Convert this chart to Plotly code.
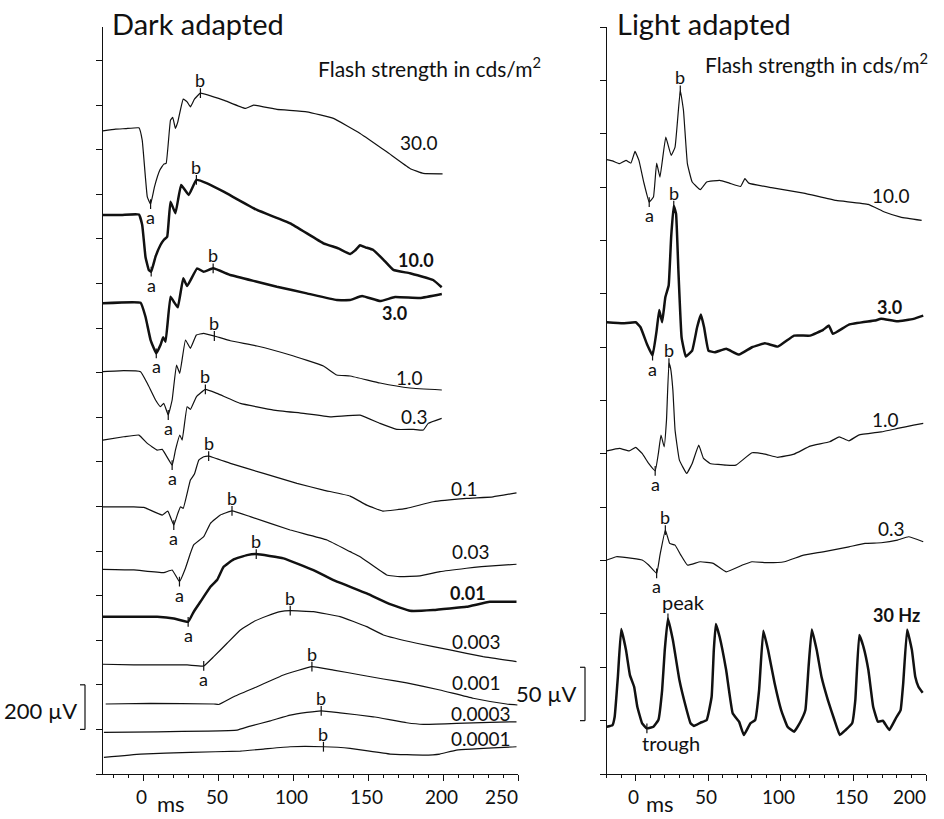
import numpy as np
import plotly.graph_objects as go

# ------------------------------------------------------------------
# DATA  (time in ms, amplitude in µV relative to each trace's baseline)
# ------------------------------------------------------------------
# Dark adapted, flash strengths (cd·s/m²)
da_labels = ["30.0", "10.0", "3.0", "1.0", "0.3", "0.1", "0.03", "0.01",
             "0.003", "0.001", "0.0003", "0.0001"]
da_offsets_uv = [2892, 2507, 2112, 1805, 1511, 1197, 915, 705, 489, 314, 188, 76]

da30_ms = [-27.4, -18.9, -12.2, -3.3, -1.1, 2.3, 4.5, 7.1, 10.7, 13.3, 14.9, 17.8, 19.3, 21.1,
           22.7, 26.3, 28.9, 31.1, 33.8, 37.8, 53.3, 67.8, 73.3, 88.9, 108.9, 126.7, 144.5,
           162.3, 177.8, 186.7, 199.6]
da30_uv = [-7.6, 0, 2.2, 5.8, -49.3, -303.6, -336.3, -258.8, -183.8, -157, -153.8, 40.4, 52.5,
           3.1, 32.7, 134.5, 122.4, 100, 134.5, 161.4, 130, 92.8, 107.6, 88.3, 77.6, 48, -19.3,
           -101.8, -176.3, -198.6, -200.4]

da10_ms = [-27.4, -15, -3.3, -1.1, 1.1, 3.3, 4.9, 7.8, 11.1, 13.3, 15.6, 17.8, 21.1, 24.9, 30,
           35.1, 42.3, 53.3, 75.6, 97.8, 120, 130, 137.8, 141, 144.5, 148, 153.3, 160, 166.7,
           177.8, 193.3, 199]
da10_uv = [0, 0, 2, -44.8, -188.3, -246.6, -254.2, -187, -134.5, -112.1, -97.3, 59.6, 7.6, 134.5,
           89.7, 157, 142.1, 104.5, 22.4, -37.2, -126.9, -150, -174.9, -160, -136, -145, -156.9,
           -200, -246.6, -261.4, -291.5, -324.2]

da3_ms = [-27.4, -2.2, 1.1, 4.5, 8.3, 11.1, 12.9, 14.5, 17.8, 20, 22.7, 26.3, 28.9, 35.6, 40,
          46.3, 57.8, 75.6, 88.9, 108.9, 128.9, 137.8, 145.8, 157.8, 167.8, 184.5, 199.1]
da3_uv = [-1.3, 1.3, -61.4, -165.9, -225.5, -188.3, -153.8, -173.5, 28.2, 5.8, -19.3, 110.8,
          76.2, 155.6, 140.4, 155.6, 125.6, 95.5, 73.1, 43.5, 13.5, 13.5, 31.4, 9, 26.9, 22.4, 40.4]

da1_ms = [-27.4, -13.5, -2.2, 2.3, 7.8, 11.1, 13.3, 16.3, 18.9, 21.8, 24, 27.8, 31.1, 35.1, 40,
          47.1, 57.8, 75.6, 97.8, 120, 128.9, 137.8, 157.8, 177.8, 199.1]
da1_uv = [-0.9, 3.6, -0.9, -52.9, -127.8, -157.8, -142.6, -195, -127.8, 29.1, -8.1, 141.2, 104,
          163.7, 171.3, 159.2, 138.1, 114.3, 74, 24.7, -15.7, -20.2, -51.6, -74, -83]

da0_3_ms = [-27.4, -13.5, -3.3, 2.3, 8.9, 12.3, 18.9, 21.1, 24, 25.6, 28.9, 31.1, 35.1, 41.1,
            48.9, 64.5, 86.7, 106.7, 124.5, 144.5, 157.8, 169, 180, 186.7, 190, 199]
da0_3_uv = [-13.5, 1.3, 9, -28.2, -58.3, -55.2, -125.6, -58.3, 9, -13.5, 135.9, 124.2, 180.7,
            213.9, 195.9, 151.1, 121.1, 106.3, 91, 98.6, 61.4, 34.5, 34.5, 31.4, 61.4, 83.9]

da0_1_ms = [-27.4, -6.7, 0, 12.3, 16, 20, 22.7, 24.5, 26.3, 31.1, 33.8, 36.7, 40, 43.3, 57.8, 80,
            102.3, 120, 137.8, 148.9, 159.6, 175.6, 193.3, 215.6, 233.3, 249]
da0_1_uv = [1.3, 1.3, -1.3, -35.9, -17.9, -80.7, -28.2, 1.3, -5.8, 121.1, 148, 210.7, 225.5,
            228.7, 196, 151.1, 106.3, 76.2, 49.3, 9, -17.9, -5.8, 23.8, 39, 46.2, 64.1]

da0_03_ms = [-27.4, -6.7, 13.3, 18.9, 23.8, 27.8, 31.1, 33.3, 40, 44.5, 51.1, 58.9, 71.1, 97.8,
             122.3, 137.8, 144.5, 162.3, 171.1, 184.5, 197.8, 215.6, 225.6, 249]
da0_03_uv = [3.1, 0, -12.1, 0, -52.5, 7.6, 74.9, 112.1, 149.3, 209.4, 246.6, 264.6, 239, 179.4,
             134.5, 82.1, 59.6, -22.4, -30, -26.9, -7.6, 7.6, 14.8, 25.6]

da0_01_ms = [-27.4, -6.7, 8.9, 20, 29.6, 33.3, 37.8, 44.5, 48.9, 53.3, 60, 68.9, 75.1, 93.3,
             113.3, 126.7, 148.9, 164.5, 177.8, 193.3, 215.6, 231.1, 249]
da0_01_uv = [0, 0, 0, -7.2, -22.4, 22.4, 67.3, 134.5, 164.6, 224.2, 257.4, 276.7, 281.1, 261.9,
             209.4, 164.6, 104.9, 56.9, 26.9, 30, 44.8, 67.3, 67.3]

da0_003_ms = [-27.4, -6.7, 28.9, 40, 46.7, 55.6, 64.5, 73.3, 82.3, 91.1, 97.8, 113.3, 131.1,
              148.9, 160, 182.3, 204.5, 226.7, 249]
da0_003_uv = [3.1, 0, 0, -4.5, 37.2, 97.3, 156.9, 194.2, 219.7, 239, 243.5, 239, 216.6, 171.7,
              134.5, 97.3, 67.3, 37.2, 14.8]

da0_001_ms = [-25.5, 4.5, 46.7, 50, 60, 75.6, 93.3, 112.3, 126.7, 145, 160, 175.6, 197.8, 220,
              242.3, 249.6]
da0_001_uv = [0, 3.1, 0, -2.2, 32.7, 77.6, 130, 167.3, 152, 130, 112, 95, 62.8, 25.6, 0, -4.5]

da0_0003_ms = [-26.7, 8.9, 42.3, 62.3, 71.1, 84.5, 97.8, 108.9, 118.5, 131.1, 153.3, 175.6,
               186.7, 208.9, 231.1, 249]
da0_0003_uv = [-1.3, 1.3, 4.5, 9, 26.9, 50.2, 76.2, 88.3, 95.4, 86.5, 68.6, 41.7, 34.5, 39,
               43.5, 46.2]

da0_0001_ms = [-26.7, -2.2, 31.1, 64.5, 80, 97.8, 120, 137.8, 164.5, 186.7, 197.8, 208.9, 249]
da0_0001_uv = [-1.3, 13.5, 21.1, 26.9, 35.9, 46.2, 46.2, 39, 13.5, 9, 13.5, 31.4, 46.2]

# a-wave / b-wave implicit times (ms); None = not marked
da_a_ms = [4.5, 4.9, 8.3, 16.3, 18.9, 20, 23.8, 29.6, 40, None, None, None]
da_b_ms = [37.8, 35.1, 46.3, 47.1, 41.1, 43.3, 58.9, 75.1, 97.8, 112.3, 118.5, 120]

# Light adapted
la_labels = ["10.0", "3.0", "1.0", "0.3", "30 Hz"]
la_offsets_uv = [575, 423, 303.5, 201.4, 44.3]

la10_ms = [-20, -15.6, -11.2, -6.7, -3.3, -0.5, 2.2, 5.5, 9.3, 12.2, 14.4, 16.7, 20.7, 24.4,
           27.1, 30.7, 32.9, 35.6, 38.9, 44.5, 48.9, 57.8, 64.5, 72.3, 75.2, 77.9, 93.5, 115.7,
           138, 160.3, 171.4, 182.5, 197]
la10_uv = [0.7, -0.7, -3.1, 0, -2.5, 8.4, 0, -20.3, -39.1, -34.4, -2.5, -15.6, 21.8, 4.7, 12.5,
           65.6, 46.8, -3.1, -20.3, -27.4, -20.3, -18.7, -21.3, -24.4, -17.1, -21.3, -25.6,
           -30.6, -37.5, -41.2, -48.4, -53.1, -56.2]

la3_ms = [-20, -8.9, 0, 3.3, 7.7, 11.6, 14.4, 16.2, 18.2, 20.4, 22.7, 24.4, 26.2, 27.8, 29.4,
          31.6, 34.5, 38.9, 42.3, 44.9, 47.1, 50.1, 54.5, 62.3, 71.2, 80.1, 89, 97.9, 109.1,
          120.2, 129.1, 133.1, 135.8, 146.9, 164.7, 169.1, 180.3, 191.4, 198.1]
la3_uv = [0.3, -0.7, 0.3, -4.4, -20, -30.9, -7.5, 11.9, 0.3, 23.7, 34.7, 79.9, 109.6, 101.8,
          48.7, -13.8, -31.8, -26.2, -4.4, 7.5, -4.4, -26.2, -27.8, -24.6, -30, -23.1, -19.4,
          -22.5, -12.2, -12.2, -6.8, -2.8, -10.6, -1.9, 1.9, 3.5, 1.2, 3.5, 6.6]

la1_ms = [-20, -11.2, -4.5, 0, 4.4, 8.9, 13.4, 15.6, 17.4, 19.6, 21.2, 22.9, 24, 25.6, 27.1,
          30.1, 35.1, 38.9, 43.4, 46.7, 51.2, 62.3, 69, 80.1, 89, 97.9, 109.1, 120.2, 133.6,
          140.2, 146.9, 153.6, 169.1, 180.3, 191.4, 198.1]
la1_uv = [-0.7, 1.6, -0.7, 2.5, -3.1, -12.5, -19.4, -3.1, 14.1, 3.1, 28.1, 81.5, 76.8, 56.2,
          18.7, -9.4, -21.8, -12.5, 4.7, -7.8, -12.5, -14.1, -14.1, -2.5, -3.7, -6.8, -3.7, 3.7,
          7.8, 12.5, 8.7, 14.1, 17.1, 20.3, 23.4, 25]

la0_3_ms = [-20, -13.4, -2.3, 4.4, 8.9, 14.4, 16.7, 20.4, 23.4, 27.1, 31.1, 35.6, 44.5, 53.4,
            62.3, 73.5, 80.1, 91.2, 102.4, 115.7, 129.1, 146.9, 158, 169.1, 180.3, 188, 198.1]
la0_3_uv = [-0.9, 2.2, 0.7, -0.9, -5.6, -13.4, 3.7, 27.2, 14.7, 13.1, 3.7, -5.6, -2.5, -4,
            -11.9, -5.6, -2.5, -3.4, -2.5, 3.7, 6.8, 11.5, 14.7, 15.3, 17.8, 20.9, 16.2]

flicker_ms = [-20, -16, -14.5, -12.3, -10, -6.7, -4, -1.1, 1.1, 4.4, 7.7, 12.2, 15.6, 18.2, 20,
              22.2, 25.6, 30.1, 34.5, 37.8, 40.1, 44.5, 48.9, 52.3, 53.8, 55.2, 57.8, 62.3, 66.8,
              71.2, 74.5, 79, 82.3, 85, 87.9, 91.2, 95.7, 100.2, 104.6, 109.1, 113.5, 116.9,
              119.1, 121.3, 124.7, 128, 132.4, 136.9, 140.6, 144.6, 149.1, 151.3, 154, 156.9,
              160.3, 163.6, 166.9, 170.3, 174.7, 179.2, 182.5, 184.3, 187, 190.3, 192.6, 194.8,
              197.7]
flicker_uv = [0, 1.6, 9.4, 46.8, 91.5, 71.8, 48.4, 37.5, 18.7, 3.2, -1.5, 0, 6.3, 34.4, 71.8,
              101.5, 81.2, 43.7, 18.7, 3.2, 0.7, 3.7, 6.3, 28.1, 71.8, 96.2, 84.3, 53.1, 12.6,
              4.7, -7.8, 3.2, 6.3, 34.4, 89.9, 71.8, 40.7, 15.6, 0, -4.7, 4.7, 15.6, 56.2, 91.2,
              71.8, 46.8, 25, 6.3, -7.8, -3.1, 3.2, 25, 85.9, 74.9, 53.1, 18.7, 4.7, 5.6, -3.1,
              7.9, 15.6, 40.7, 91.2, 71.8, 46.8, 37.5, 31.8]

la_a_ms = [9.3, 11.6, 13.4, 14.4, None]
la_b_ms = [30.7, 26.2, 22.9, 20.4, None]
flicker_peak_ms = 22.2
flicker_trough_ms = 7.7

x_ticks_da = [0, 50, 100, 150, 200, 250]
x_ticks_la = [0, 50, 100, 150, 200]

# ------------------------------------------------------------------
# FIGURE
# ------------------------------------------------------------------
W, H = 928, 819          # effective drawing width of the page
INK = "#111111"
FONT = "Lato, 'Open Sans', sans-serif"


def px(p):
    return p / W


def py(p):
    return 1 - p / H


da_traces = [(da30_ms, da30_uv), (da10_ms, da10_uv), (da3_ms, da3_uv), (da1_ms, da1_uv),
             (da0_3_ms, da0_3_uv), (da0_1_ms, da0_1_uv), (da0_03_ms, da0_03_uv),
             (da0_01_ms, da0_01_uv), (da0_003_ms, da0_003_uv), (da0_001_ms, da0_001_uv),
             (da0_0003_ms, da0_0003_uv), (da0_0001_ms, da0_0001_uv)]
la_traces = [(la10_ms, la10_uv), (la3_ms, la3_uv), (la1_ms, la1_uv), (la0_3_ms, la0_3_uv),
             (flicker_ms, flicker_uv)]
da_bold = {"10.0", "3.0", "0.01"}
la_bold = {"3.0", "30 Hz"}

fig = go.Figure()
annotations = []


def add_panel(traces, labels, offsets, bold, a_list, b_list, xa, ya):
    mk_x, mk_y = [], []
    for (t, v), lab, off, ta, tb in zip(traces, labels, offsets, a_list, b_list):
        y = np.array(v, dtype=float) + off
        fig.add_trace(go.Scatter(
            x=t, y=y, mode="lines", xaxis=xa, yaxis=ya, hoverinfo="skip",
            showlegend=False,
            line=dict(color=INK, width=2.5 if lab in bold else 1.2, shape="spline",
                      smoothing=0.3)))
        for tt, letter, shift in ((ta, "a", -13), (tb, "b", 13)):
            if tt is None:
                continue
            yy = off + float(np.interp(tt, t, v))
            mk_x.append(tt)
            mk_y.append(yy)
            annotations.append(dict(x=tt, y=yy, xref=xa, yref=ya, text=letter,
                                    showarrow=False, yshift=shift,
                                    font=dict(family=FONT, size=18, color=INK)))
    return mk_x, mk_y


tick_marker = dict(symbol="line-ns-open", size=7, color=INK, line=dict(color=INK, width=1.2))
mx, my = add_panel(da_traces, da_labels, da_offsets_uv, da_bold, da_a_ms, da_b_ms, "x", "y")
fig.add_trace(go.Scatter(x=mx, y=my, mode="markers", xaxis="x", yaxis="y", hoverinfo="skip",
                         showlegend=False, marker=tick_marker))
mx, my = add_panel(la_traces, la_labels, la_offsets_uv, la_bold, la_a_ms, la_b_ms, "x2", "y2")
fl_off = la_offsets_uv[4]
for tt in (flicker_peak_ms, flicker_trough_ms):
    mx.append(tt)
    my.append(fl_off + float(np.interp(tt, flicker_ms, flicker_uv)))
fig.add_trace(go.Scatter(x=mx, y=my, mode="markers", xaxis="x2", yaxis="y2", hoverinfo="skip",
                         showlegend=False, marker=tick_marker))

# flash-strength labels (placement in data coordinates)
da_label_pos = [(183.8, 2831), (181.8, 2305), (167.8, 2067), (177.8, 1780), (181.1, 1602),
                (214.5, 1281), (218.3, 997), (216.7, 810), (222.3, 593), (222.3, 412),
                (225.6, 272), (225.6, 160)]
for lab, (lx, ly) in zip(da_labels, da_label_pos):
    b = lab in da_bold
    annotations.append(dict(x=lx, y=ly, xref="x", yref="y", text=f"<b>{lab}</b>" if b else lab,
                            showarrow=False,
                            font=dict(family=FONT, size=18 if b else 19, color=INK)))
la_label_pos = [(176, 542), (175, 438), (172, 332), (176, 230), (180, 149)]
for lab, (lx, ly) in zip(la_labels, la_label_pos):
    b = lab in la_bold
    annotations.append(dict(x=lx, y=ly, xref="x2", yref="y2",
                            text=f"<b>{lab}</b>" if b else lab, showarrow=False,
                            font=dict(family=FONT, size=18 if b else 19, color=INK)))
annotations.append(dict(x=33, y=161, xref="x2", yref="y2", text="peak", showarrow=False,
                        font=dict(family=FONT, size=20, color=INK)))
annotations.append(dict(x=24, y=29, xref="x2", yref="y2", text="trough", showarrow=False,
                        font=dict(family=FONT, size=20, color=INK)))

# time-axis tick labels (last label kept inside its axis, as in the original)
for ticks, xa in ((x_ticks_da, "x"), (x_ticks_la, "x2")):
    for tv in ticks:
        last = tv == ticks[-1]
        annotations.append(dict(x=tv, y=py(796), xref=xa, yref="paper", text=str(tv),
                                showarrow=False, xanchor="right" if last else "center",
                                xshift=2 if last else -2, yanchor="middle",
                                font=dict(family=FONT, size=19, color=INK)))

# titles and other texts
for txt, x in (("Dark adapted", 110), ("Light adapted", 615)):
    annotations.append(dict(x=px(x), y=py(23), xref="paper", yref="paper", text=txt,
                            showarrow=False, xanchor="left", yanchor="middle",
                            font=dict(family=FONT, size=29, color=INK)))
for x, y in ((316, 67), (703, 63)):
    annotations.append(dict(x=px(x), y=py(y), xref="paper", yref="paper",
                            text="Flash strength in cds/m<sup>2</sup>", showarrow=False,
                            xanchor="left", yanchor="middle",
                            font=dict(family=FONT, size=21, color=INK)))
for x in (171, 660):
    annotations.append(dict(x=px(x), y=0, xref="paper", yref="paper", text="ms",
                            showarrow=False, xanchor="center", yanchor="bottom",
                            font=dict(family=FONT, size=22, color=INK)))

# calibration bars
scale_da = (200, 400)
scale_la = (50, 100)
shapes = []
for (x0, x1, yref, (ya_, yb_)) in ((px(80), px(85), "y", scale_da),
                                   (px(580), px(585), "y2", scale_la)):
    line = dict(color=INK, width=1.2)
    shapes += [dict(type="line", xref="paper", yref=yref, x0=x0, x1=x1, y0=yb_, y1=yb_, line=line),
               dict(type="line", xref="paper", yref=yref, x0=x1, x1=x1, y0=ya_, y1=yb_, line=line),
               dict(type="line", xref="paper", yref=yref, x0=x0, x1=x1, y0=ya_, y1=ya_, line=line)]
annotations.append(dict(x=px(79), y=285, xref="paper", yref="y", text="200 µV",
                        showarrow=False, xanchor="right", yanchor="middle",
                        font=dict(family=FONT, size=22, color=INK)))
annotations.append(dict(x=px(578), y=75, xref="paper", yref="y2", text="50 µV",
                        showarrow=False, xanchor="right", yanchor="middle",
                        font=dict(family=FONT, size=22, color=INK)))

ydom = [py(774), py(27)]
common_x = dict(showline=True, linecolor=INK, linewidth=1.3, ticks="outside", ticklen=6,
                tickwidth=1.2, tickcolor=INK, showgrid=False, showticklabels=False,
                zeroline=False, tickmode="array",
                minor=dict(ticks="outside", ticklen=3, tickwidth=1, tickcolor=INK,
                           dtick=10, tick0=0, showgrid=False))
common_y = dict(showline=True, linecolor=INK, linewidth=1.3, ticks="outside", ticklen=6,
                tickwidth=1.2, tickcolor=INK, tick0=0, showticklabels=False,
                showgrid=False, zeroline=False, domain=ydom)

fig.update_layout(
    width=W, height=H, autosize=False, margin=dict(l=0, r=0, t=0, b=0, pad=0),
    paper_bgcolor="white", plot_bgcolor="white",
    xaxis=dict(common_x, domain=[px(102.7), px(518)], range=[-27.5, 250], anchor="y",
               tickvals=x_ticks_da),
    yaxis=dict(common_y, range=[0, 3350], dtick=200, anchor="x"),
    xaxis2=dict(common_x, domain=[px(606.7), px(926)], range=[-20, 200], anchor="y2",
                tickvals=x_ticks_la),
    yaxis2=dict(common_y, range=[0, 700], dtick=50, anchor="x2"),
    annotations=annotations, shapes=shapes, showlegend=False,
)

fig.write_html("out.html")
